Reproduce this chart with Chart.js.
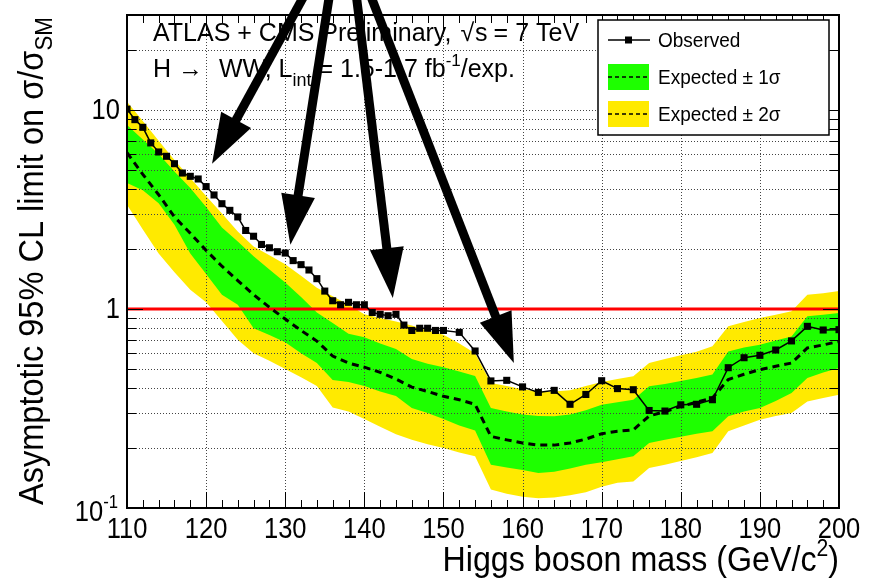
<!DOCTYPE html>
<html>
<head>
<meta charset="utf-8">
<script src="https://cdn.jsdelivr.net/npm/chart.js@4.4.0/dist/chart.umd.min.js"></script>
<style>
  html, body { margin: 0; padding: 0; background: #fff; }
  canvas { display: block; }
</style>
</head>
<body>
<canvas id="limit-chart" width="869" height="582"></canvas>
<script>
// Observed limit (1 GeV steps up to 150, then 2 GeV)
var obsMass = [110,111,112,113,114,115,116,117,118,119,120,121,122,123,124,125,126,127,128,129,130,
  131,132,133,134,135,136,137,138,139,140,141,142,143,144,145,146,147,148,149,150,
  152,154,156,158,160,162,164,166,168,170,172,174,176,178,180,182,184,186,188,190,192,194,196,198,200];
var obsLimit = [10.1,8.94,8.18,6.83,6.15,5.85,5.37,4.82,4.64,4.50,4.12,3.74,3.38,3.13,2.90,2.48,2.32,2.11,2.03,1.94,1.91,
  1.75,1.67,1.57,1.42,1.23,1.10,1.05,1.08,1.05,1.05,0.96,0.94,0.925,0.94,0.83,0.78,0.80,0.80,0.78,0.78,
  0.763,0.615,0.435,0.438,0.406,0.381,0.390,0.332,0.372,0.436,0.398,0.393,0.309,0.307,0.330,0.332,0.350,0.507,0.569,0.585,0.622,0.691,0.818,0.784,0.787];

// Expected limit and bands (2 GeV steps)
var expMass = [110,112,114,116,118,120,122,124,126,128,130,132,134,136,138,140,142,144,146,148,150,
  152,154,156,158,160,162,164,166,168,170,172,174,176,178,180,182,184,186,188,190,192,194,196,198,200];
var expMedian = [6.1,4.75,3.75,2.9,2.4,1.97,1.64,1.39,1.18,1.02,0.89,0.78,0.69,0.58,0.535,0.51,0.48,0.445,0.405,0.385,0.364,
  0.35,0.332,0.229,0.22,0.212,0.207,0.207,0.212,0.222,0.236,0.243,0.247,0.29,0.305,0.324,0.34,0.357,0.442,0.47,0.496,0.515,0.535,0.637,0.66,0.687];
var exp1Up = [8.4,7.1,6.0,4.9,4.05,3.25,2.57,2.18,1.84,1.58,1.36,1.15,0.96,0.85,0.75,0.72,0.67,0.63,0.56,0.53,0.51,
  0.485,0.46,0.318,0.305,0.295,0.29,0.289,0.295,0.31,0.33,0.34,0.35,0.409,0.42,0.435,0.45,0.468,0.612,0.64,0.662,0.695,0.728,0.918,0.935,0.955];
var exp1Dn = [4.3,3.95,3.4,2.65,1.9,1.5,1.18,1.05,0.8,0.74,0.68,0.6,0.535,0.44,0.43,0.41,0.385,0.365,0.318,0.3,0.28,
  0.26,0.245,0.165,0.16,0.155,0.15,0.152,0.158,0.165,0.17,0.176,0.182,0.212,0.22,0.228,0.236,0.243,0.289,0.305,0.318,0.345,0.378,0.45,0.48,0.505];
var exp2Up = [11.0,8.8,7.0,5.6,4.55,3.7,3.02,2.45,2.06,1.86,1.68,1.47,1.28,1.16,1.05,0.94,0.90,0.865,0.825,0.78,0.743,
  0.67,0.60,0.425,0.41,0.395,0.385,0.385,0.39,0.41,0.43,0.445,0.459,0.535,0.56,0.585,0.61,0.649,0.818,0.86,0.901,0.935,0.973,1.18,1.2,1.23];
var exp2Dn = [3.34,2.51,1.9,1.53,1.25,1.08,0.87,0.70,0.60,0.55,0.50,0.454,0.41,0.32,0.305,0.28,0.256,0.235,0.22,0.209,0.2,
  0.19,0.182,0.124,0.118,0.114,0.112,0.113,0.116,0.12,0.128,0.134,0.136,0.159,0.165,0.172,0.18,0.189,0.243,0.26,0.278,0.29,0.3,0.343,0.357,0.371];

// axis labels
var xTickLabels = [110,120,130,140,150,160,170,180,190,200];
var yTickLabels = [0.1,1,10];
var legendLabels = ['Observed', 'Expected \u00b1 1\u03c3', 'Expected \u00b1 2\u03c3'];

// arrows (tip and tail in mass / limit units)
var arrowTipMass  = [120.75, 130.65, 143.6, 158.9];
var arrowTipVal   = [5.37, 2.10, 1.136, 0.535];
var arrowTailMass = [132.8, 135.7, 138.9, 140.5];
var arrowTailVal  = [40.2, 40.2, 40.2, 40.2];

var FONT = '"Liberation Sans", Arial, Helvetica, sans-serif';
var YELLOW = '#ffea00';
var GREEN = '#1eff00';

function pts(xs, ys) {
  return xs.map(function(m, i) { return {x: m, y: ys[i]}; });
}

// segs: [text, size, dy, extra gap after]; sx squeezes along the text direction
function drawRich(ctx, x, y, segs, sx) {
  sx = sx || 1;
  segs.forEach(function(s) {
    ctx.font = s[1] + 'px ' + FONT;
    ctx.save();
    ctx.translate(x, y + (s[2] || 0));
    ctx.scale(sx, 1);
    ctx.fillText(s[0], 0, 0);
    ctx.restore();
    x += ctx.measureText(s[0]).width * sx + (s[3] || 0);
  });
  return x;
}
function richWidth(ctx, segs, sx) {
  var w = 0;
  segs.forEach(function(s) {
    ctx.font = s[1] + 'px ' + FONT;
    w += ctx.measureText(s[0]).width * (sx || 1) + (s[3] || 0);
  });
  return w;
}

var rootStyle = {
  id: 'rootStyle',
  beforeDatasetDraw: function(chart, args) {
    // ROOT draws the grid over the bands
    if (args.index !== 4) return;
    var c = chart.ctx, xs = chart.scales.x, ys = chart.scales.y, a = chart.chartArea;
    c.save();
    c.strokeStyle = '#444';
    c.lineWidth = 1;
    c.setLineDash([1, 2]);
    c.beginPath();
    for (var m = 120; m < 200; m += 10) {
      var px = Math.round(xs.getPixelForValue(m)) + 0.5;
      c.moveTo(px, a.top); c.lineTo(px, a.bottom);
    }
    [0.1, 1, 10].forEach(function(dec) {
      for (var k = 1; k <= 9; k++) {
        var v = dec * k;
        if (v <= 0.1 || v >= 30) continue;
        var py = Math.round(ys.getPixelForValue(v)) + 0.5;
        c.moveTo(a.left, py); c.lineTo(a.right, py);
      }
    });
    c.stroke();
    c.restore();
  },
  afterDraw: function(chart) {
    var c = chart.ctx, xs = chart.scales.x, ys = chart.scales.y, a = chart.chartArea;
    c.save();
    c.strokeStyle = '#000';
    c.fillStyle = '#000';
    c.lineWidth = 1;

    // ticks on all four sides
    c.beginPath();
    for (var m = 110; m <= 200; m += 2) {
      var px = Math.round(xs.getPixelForValue(m)) + 0.5;
      var len = (m % 10 === 0) ? 16 : 8;
      c.moveTo(px, a.bottom); c.lineTo(px, a.bottom - len);
      c.moveTo(px, a.top); c.lineTo(px, a.top + len);
    }
    [0.1, 1, 10].forEach(function(dec) {
      for (var k = 1; k <= 9; k++) {
        var v = dec * k;
        if (v < 0.1 || v > 30) continue;
        var py = Math.round(ys.getPixelForValue(v)) + 0.5;
        var len = (k === 1) ? 16 : 9;
        c.moveTo(a.left, py); c.lineTo(a.left + len, py);
        c.moveTo(a.right, py); c.lineTo(a.right - len, py);
      }
    });
    c.stroke();

    // frame
    c.lineWidth = 2;
    c.strokeRect(a.left, a.top, a.right - a.left, a.bottom - a.top);

    // x tick labels
    c.textAlign = 'left';
    c.textBaseline = 'alphabetic';
    xTickLabels.forEach(function(v) {
      var segs = [[String(v), 29, 0]];
      var w = richWidth(c, segs, 0.88);
      drawRich(c, xs.getPixelForValue(v) - w / 2, a.bottom + 30, segs, 0.88);
    });

    // y tick labels
    yTickLabels.forEach(function(v) {
      var py = ys.getPixelForValue(v);
      var segs = v < 1 ? [['10', 29, 0], ['-1', 19, -13]] : [[String(v), 29, 0]];
      var w = richWidth(c, segs, 0.88);
      var right = v < 1 ? 118 : 120;
      drawRich(c, right - w, py + (v < 1 ? 13 : 9), segs, 0.88);
    });

    // axis titles
    var xt = [['Higgs boson mass (GeV/c', 35, 0], ['2', 23, -15], [')', 35, 0]];
    drawRich(c, a.right - richWidth(c, xt, 0.92), 571, xt, 0.92);

    c.save();
    c.translate(43, a.bottom - 3);
    c.rotate(-Math.PI / 2);
    drawRich(c, 0, 0, [['Asymptotic 95% CL limit on \u03c3/\u03c3', 35, 0], ['SM', 24, 9]], 0.93);
    c.restore();

    // header text
    drawRich(c, 153, 41, [['ATLAS + CMS Preliminary, ', 25, 0, 2], ['\u221a', 25, 0, 1], ['s', 25, 0, 6], ['=', 25, 0, 7], ['7 TeV', 25, 0]]);
    drawRich(c, 153, 77, [['H ', 25, 0], ['\u2192', 25, 0, 2], ['  WW, L', 25, 0], ['int', 18, 9], [' = 1.5-1.7 fb', 25, 0], ['-1', 17, -11], ['/exp.', 25, 0]]);

    // legend
    var L = 598, T = 20, R = 829, B = 135;
    c.fillStyle = '#fff';
    c.fillRect(L, T, R - L, B - T);
    c.lineWidth = 1.5;
    c.strokeStyle = '#000';
    c.strokeRect(L, T, R - L, B - T);
    var rows = [40, 77, 114];
    // observed
    c.lineWidth = 1.5;
    c.beginPath(); c.moveTo(608, rows[0]); c.lineTo(650, rows[0]); c.stroke();
    c.fillStyle = '#000';
    c.fillRect(625, rows[0] - 3.5, 7, 7);
    // bands
    [GREEN, YELLOW].forEach(function(col, i) {
      var yy = rows[i + 1];
      c.fillStyle = col;
      c.fillRect(608, yy - 13, 41, 26);
      c.save();
      c.setLineDash([4, 3]);
      c.lineWidth = 1.5;
      c.beginPath(); c.moveTo(608, yy); c.lineTo(649, yy); c.stroke();
      c.restore();
    });
    c.fillStyle = '#000';
    legendLabels.forEach(function(t, i) {
      drawRich(c, 658, rows[i] + 7, [[t, 20, 0]], 0.95);
    });

    // arrows
    c.fillStyle = '#000';
    c.strokeStyle = '#000';
    arrowTipMass.forEach(function(m, i) {
      var tx = xs.getPixelForValue(m), ty = ys.getPixelForValue(arrowTipVal[i]);
      var sx = xs.getPixelForValue(arrowTailMass[i]), sy = ys.getPixelForValue(arrowTailVal[i]);
      var dx = tx - sx, dy = ty - sy, d = Math.sqrt(dx * dx + dy * dy);
      var ux = dx / d, uy = dy / d;
      var hl = 50, hw = 17;
      var bx = tx - ux * hl, by = ty - uy * hl;
      c.lineWidth = 9;
      c.beginPath(); c.moveTo(sx, sy); c.lineTo(bx + ux * 2, by + uy * 2); c.stroke();
      c.beginPath();
      c.moveTo(tx, ty);
      c.lineTo(bx - uy * hw, by + ux * hw);
      c.lineTo(bx + uy * hw, by - ux * hw);
      c.closePath();
      c.fill();
    });
    c.restore();
  }
};

var ctx = document.getElementById('limit-chart').getContext('2d');

var chart = new Chart(ctx, {
  type: 'line',
  data: {
    datasets: [
      { data: pts(expMass, exp2Up), fill: '+1', backgroundColor: YELLOW, borderWidth: 0, pointRadius: 0, order: 10 },
      { data: pts(expMass, exp2Dn), fill: false, borderWidth: 0, pointRadius: 0, order: 10 },
      { data: pts(expMass, exp1Up), fill: '+1', backgroundColor: GREEN, borderWidth: 0, pointRadius: 0, order: 8 },
      { data: pts(expMass, exp1Dn), fill: false, borderWidth: 0, pointRadius: 0, order: 8 },
      { data: pts([110, 200], [1, 1]), borderColor: '#ff0000', borderWidth: 3, pointRadius: 0, order: 6 },
      { data: pts(expMass, expMedian), borderColor: '#000', borderWidth: 3, borderDash: [7, 5], pointRadius: 0, order: 4 },
      { data: pts(obsMass, obsLimit), borderColor: '#000', borderWidth: 1.5, pointStyle: 'rect',
        pointRadius: 5, pointBackgroundColor: '#000', pointBorderWidth: 0, order: 2 }
    ]
  },
  options: {
    responsive: false,
    animation: false,
    devicePixelRatio: 1,
    layout: { padding: { left: 127, right: 30, top: 15, bottom: 74 } },
    elements: { line: { tension: 0 } },
    plugins: { legend: { display: false }, tooltip: { enabled: false } },
    scales: {
      x: { type: 'linear', min: 110, max: 200, display: false },
      y: { type: 'logarithmic', min: 0.1, max: 30, display: false }
    }
  },
  plugins: [rootStyle]
});
</script>
</body>
</html>
